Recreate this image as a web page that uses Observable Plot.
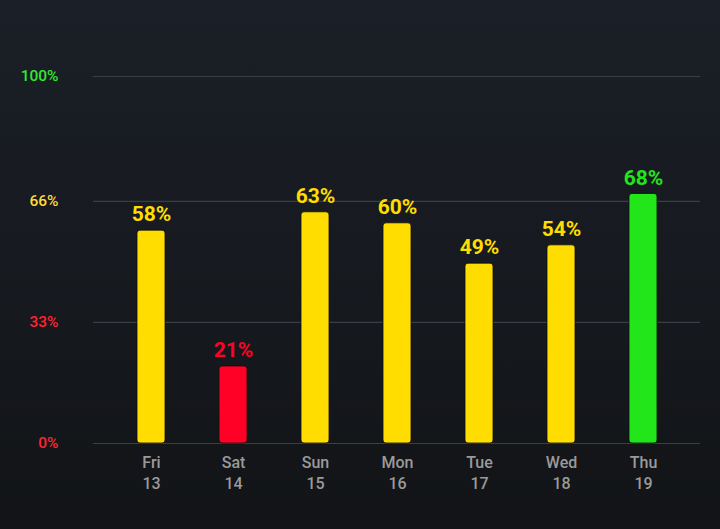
<!DOCTYPE html>
<html>
<head>
<meta charset="utf-8">
<script src="https://cdn.jsdelivr.net/npm/d3@7"></script>
<script src="https://cdn.jsdelivr.net/npm/@observablehq/plot@0.6"></script>
<style>
  html, body { margin: 0; padding: 0; }
  body { width: 720px; height: 529px; background: linear-gradient(#1b1f27, #121417); overflow: hidden; }
  #chart svg { display: block; background: transparent; }
</style>
</head>
<body>
<div id="chart"></div>
<script>
const days = ["Fri", "Sat", "Sun", "Mon", "Tue", "Wed", "Thu"];
const dates = ["13", "14", "15", "16", "17", "18", "19"];
const values = [58, 21, 63, 60, 49, 54, 68];
const barColors = ["#FFDD00", "#FF0026", "#FFDD00", "#FFDD00", "#FFDD00", "#FFDD00", "#22E51A"];
const yTicks = [0, 33, 66, 100];
const yTickColors = ["#FF2433", "#FF2433", "#FFDD33", "#33E833"];

const data = days.map((d, i) => ({key: d + "\n" + dates[i], value: values[i], color: barColors[i]}));
const tickData = yTicks.map((t, i) => ({t, color: yTickColors[i]}));

const chart = Plot.plot({
  width: 720,
  height: 529,
  marginTop: 76,
  marginBottom: 86,
  marginLeft: 93,
  marginRight: 20,
  style: {background: "transparent", fontFamily: "Roboto, sans-serif"},
  x: {domain: data.map(d => d.key), paddingInner: 0.66, paddingOuter: 0.53, label: null},
  y: {domain: [0, 100], label: null},
  marks: [
    Plot.ruleY(yTicks, {stroke: "#3a3e46", strokeWidth: 1.2}),
    Plot.barY(data, {x: "key", y: "value", fill: "color", stroke: "#0b0c0e", strokeWidth: 0.8, rx: 3}),
    Plot.text(data, {x: "key", y: "value", text: d => d.value + "%", fill: "color", dy: -16, fontSize: 21, fontWeight: "bold"}),
    Plot.text(tickData, {y: "t", text: d => d.t + "%", fill: "color", frameAnchor: "left", textAnchor: "end", dx: -35, fontSize: 15.5, fontWeight: 500}),
    Plot.axisX({tickSize: 0, tickPadding: 10, fontSize: 16, fontWeight: 500, fill: "#9a9a9a", lineHeight: 1.3, label: null}),
    Plot.axisY({ticks: [], label: null})
  ]
});
document.getElementById("chart").appendChild(chart);
</script>
</body>
</html>
